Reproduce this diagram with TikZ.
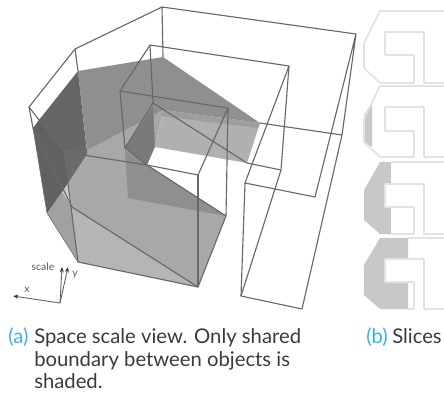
\documentclass[tikz,border=0pt]{standalone}
\usepackage{fontspec}
\setmainfont{Lato}
\usetikzlibrary{arrows.meta}
\definecolor{wire}{HTML}{686868}
\definecolor{slicegray}{HTML}{C8C8C8}
\definecolor{sliceline}{HTML}{E2E2E2}
\definecolor{capblue}{HTML}{35B6E8}
\definecolor{captext}{HTML}{3A3A3A}
\tikzset{
  wireline/.style={draw=wire,line width=0.85pt,line join=round},
  softline/.style={draw=black!55,line width=0.5pt,line join=round},
  sliceedge/.style={draw=sliceline,line width=1.3pt,line join=round},
  slicefill/.style={fill=slicegray},
  capline/.style={anchor=base west,inner sep=0pt,text=captext,font=\fontsize{15.2}{17}\selectfont},
  caplabel/.style={anchor=base west,inner sep=0pt,text=capblue,font=\fontsize{15.2}{17}\selectfont},
  axislabel/.style={inner sep=0pt,text=black!65,font=\fontsize{7.8}{9}\selectfont},
  axisline/.style={draw=wire,line width=0.7pt,-{Stealth[length=4pt,width=3pt,color=black!80]}},
}
\begin{document}
\begin{tikzpicture}[x=0.75pt,y=-0.75pt]
\useasboundingbox (0,0) rectangle (444,394);
% --- shading
\fill[black!34] (87,148)--(163,110)--(155,147)--(147,165)--(226,216)--(198,287)--(72,207)--(68,183)--cycle;
\fill[black!29] (72,207)--(198,287)--(78,262)--cycle;
\fill[black!44] (78,71)--(163,57)--(260,123)--(163,110)--(87,150)--cycle;
\fill[black!31] (163,110)--(260,123)--(247,163)--(155,147)--cycle;
\fill[black!38] (163,110)--(260,123)--(258,128)--(160,116)--cycle;
\fill[black!52] (125,148)--(153,106)--(155,146)--(147,165)--cycle;
\fill[black!44] (125,150)--(147,165)--(226,216)--(128,198)--cycle;
\fill[black!60] (78,71)--(39,120)--(64,152)--(68,156)--(87,152)--cycle;
\fill[black!20] (62,192)--(68,183)--(72,207)--cycle;
\fill[black!37] (78,262)--(47,213)--(62,192)--(72,207)--cycle;
\fill[black!62] (33,128)--(39,120)--(64,152)--(68,183)--(62,192)--(47,213)--cycle;
\fill[black!58] (64,150)--(87,150)--(87,154)--(68,183)--cycle;
\draw[softline] (33,128)--(47,213)--(78,262);
% --- outer wire
\draw[wireline] (29,107)--(75,49)--(162,7)--(356,34)--(342,135)--(302,309)--(241,296)--(245,183)--(315,197)--(356,34);
\draw[wireline] (29,107)--(33,128);
\draw[wireline] (78,262)--(198,287);
\draw[wireline] (75,49)--(78,71);
\draw[wireline] (162,7)--(163,57);
\draw[wireline] (260,123)--(342,135);
\draw[wireline] (29,107)--(64,152)--(147,165)--(226,216);
\draw[wireline] (33,128)--(72,207)--(198,287)--(226,216)--(228,108);
\draw[wireline] (64,152)--(78,262);
% --- inner wire
\draw[wireline] (120,91)--(150,45)--(289,66)--(281,170)--(241,296);
\draw[wireline] (289,66)--(245,183);
\draw[wireline] (247,163)--(281,170);
\draw[wireline] (150,45)--(153,103);
\draw[wireline] (120,91)--(228,108)--(198,175)--(147,165)--(125,148)--cycle;
\draw[wireline] (125,148)--(153,103)--(247,163);
\draw[wireline] (198,175)--(198,287);
% --- axes
\coordinate (axo) at (60,303);
\coordinate (axx) at (13,296);
\coordinate (axs) at (62,267);
\coordinate (axy) at (68,267);
\draw[axisline] (axo)--(axx);
\draw[axisline] (axo)--(axs);
\draw[axisline] (axo)--(axy);
\node[axislabel] (lscale) at (43,266.5) {scale};
\node[axislabel] (ly) at (75,275) {y};
\node[axislabel] (lx) at (27,290) {x};
% --- slice 1
\draw[sliceedge] (444,11)--(380,11)--(364,43)--(364,68)--(380,83)--(414,83)--(414,55)--(385,55)--(385,32)--(424,32)--(424,83)--(444,83);
% --- slice 2
\fill[slicefill] (364,115)--(372,103)--(372,147)--(364,142)--cycle;
\draw[sliceedge] (444,86)--(380,86)--(364,119)--(364,142)--(380,157)--(414,157)--(414,131)--(385,131)--(385,107)--(424,107)--(424,157)--(444,157);
% --- slice 3
\fill[slicefill] (380,162)--(391,162)--(391,184)--(385,184)--(385,207)--(391,207)--(391,234)--(380,234)--(364,220)--(364,190)--cycle;
\draw[sliceedge] (444,162)--(391,162);
\draw[sliceedge] (391,234)--(414,234)--(414,207)--(385,207)--(385,184)--(424,184)--(424,234)--(444,234);
% --- slice 4
\fill[slicefill] (380,238)--(408,238)--(408,259)--(385,259)--(385,282)--(408,282)--(408,309)--(380,309)--(364,295)--(364,265)--cycle;
\draw[sliceedge] (444,238)--(408,238);
\draw[sliceedge] (408,309)--(414,309)--(414,282)--(385,282)--(385,259)--(424,259)--(424,309)--(444,309);
% --- captions
\node[caplabel] (capa) at (8,343) {(a)};
\node[capline] (l1) at (34,343) {Space scale view. Only shared};
\node[capline] (l2) at (34,366) {boundary between objects is};
\node[capline] (l3) at (34,388) {shaded.};
\node[caplabel] (capb) at (366,343) {(b)};
\node[capline] (l4) at (392,343) {Slices};
\end{tikzpicture}
\end{document}
